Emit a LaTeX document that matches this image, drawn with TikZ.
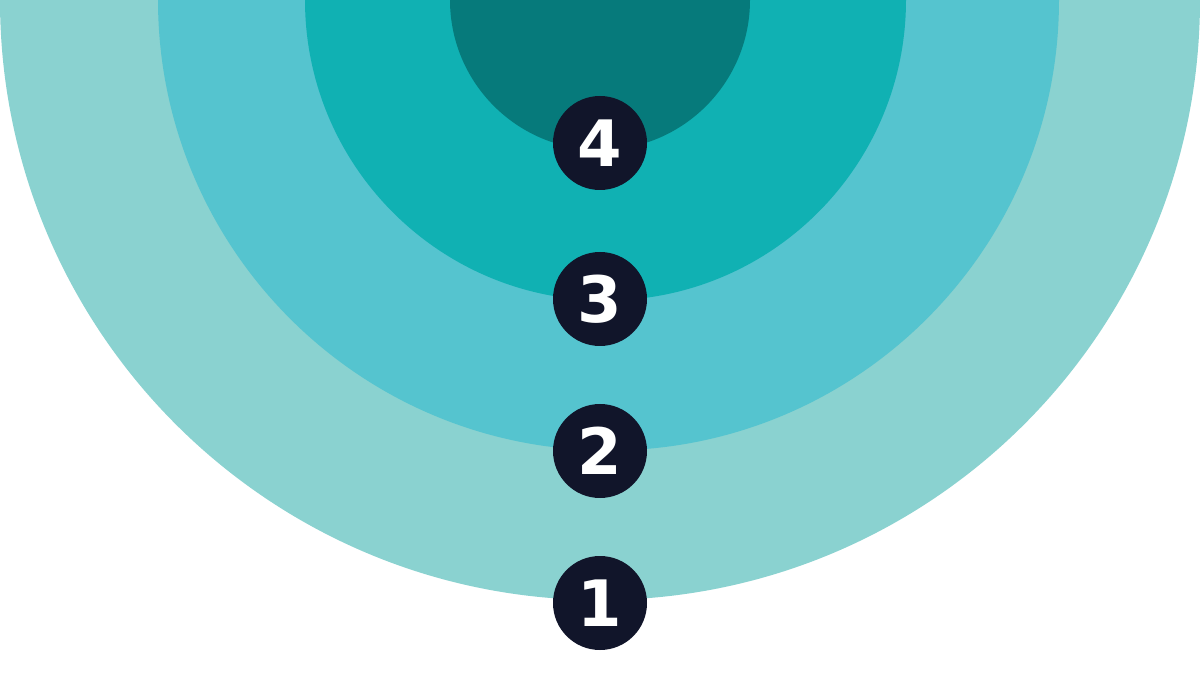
\documentclass[tikz,border=0pt]{standalone}
\usepackage{fontspec}
\newfontfamily\numfont{DejaVu Sans}
\definecolor{ringA}{HTML}{8AD2D0}
\definecolor{ringB}{HTML}{55C4CF}
\definecolor{ringC}{HTML}{10B1B3}
\definecolor{ringD}{HTML}{067A7B}
\definecolor{badge}{HTML}{11152A}
\begin{document}
\begin{tikzpicture}[x=1pt,y=-1pt,
  badgestyle/.style={circle,fill=badge,minimum size=94pt,inner sep=0pt,text=white,font=\numfont\bfseries\fontsize{64}{64}\selectfont}]
\useasboundingbox (0,0) rectangle (1200,700);
\fill[white] (0,0) rectangle (1200,700);
\fill[ringA] (0,0) arc[start angle=180,end angle=0,radius=600] -- cycle;
\fill[ringB] (158,0) arc[start angle=180,end angle=0,radius=450.5] -- cycle;
\fill[ringC] (305,0) arc[start angle=180,end angle=0,radius=300.5] -- cycle;
\fill[ringD] (450,0) arc[start angle=180,end angle=0,radius=150] -- cycle;
\node[badgestyle] (n1) at (600,603) {1};
\node[badgestyle] (n2) at (600,451) {2};
\node[badgestyle] (n3) at (600,299) {3};
\node[badgestyle] (n4) at (600,143) {4};
\end{tikzpicture}
\end{document}
